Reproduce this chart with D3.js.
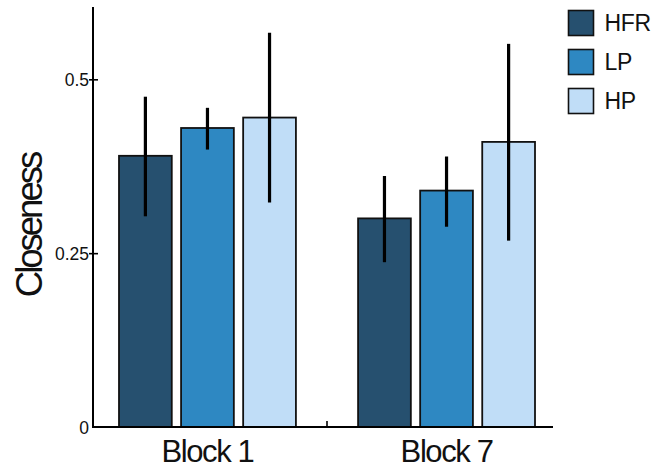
<!DOCTYPE html>
<html>
<head>
<meta charset="utf-8">
<script src="https://cdn.jsdelivr.net/npm/d3@7"></script>
<style>
  html, body { margin: 0; padding: 0; background: #fff; }
  svg { display: block; font-family: "Liberation Sans", Arial, Helvetica, sans-serif; }
  .ytick text { font-size: 17.5px; }
</style>
</head>
<body>
<svg id="chart" width="669" height="468"></svg>
<script>
// ---- data ----
const categories = ["Block 1", "Block 7"];
const seriesNames = ["HFR", "LP", "HP"];
const hfrMean = [0.39, 0.30];
const lpMean  = [0.43, 0.34];
const hpMean  = [0.445, 0.41];
const hfrLow  = [0.303, 0.237];
const hfrHigh = [0.475, 0.361];
const lpLow   = [0.399, 0.288];
const lpHigh  = [0.459, 0.389];
const hpLow   = [0.323, 0.268];
const hpHigh  = [0.567, 0.551];
const yTickValues = [0, 0.25, 0.5];
const yTickLabels = ["0", "0.25", "0.5"];
const yLabel = "Closeness";
const colors = ["#26506f", "#2e88c2", "#c0ddf7"];

const means = [hfrMean, lpMean, hpMean];
const lows = [hfrLow, lpLow, hpLow];
const highs = [hfrHigh, lpHigh, hpHigh];

const rows = [];
categories.forEach((c, ci) => {
  seriesNames.forEach((s, si) => {
    rows.push({cat: c, series: s, si, value: means[si][ci], lo: lows[si][ci], hi: highs[si][ci]});
  });
});

const svg = d3.select("#chart");
const axisX = 93, baseY = 427, topY = 7, axisRight = 553;

const y = d3.scaleLinear().domain([0, 0.604]).range([baseY, topY]);
const x0 = d3.scaleBand().domain(categories).range([119, 535]).paddingInner(0.26).paddingOuter(0);
const x1 = d3.scaleBand().domain(seriesNames).range([0, x0.bandwidth()]).paddingInner(0.15);
const color = d3.scaleOrdinal().domain(seriesNames).range(colors);

// bars
svg.append("g").selectAll("rect").data(rows).join("rect")
  .attr("x", d => x0(d.cat) + x1(d.series))
  .attr("y", d => y(d.value))
  .attr("width", x1.bandwidth())
  .attr("height", d => y(0) - y(d.value))
  .attr("fill", d => color(d.series))
  .attr("stroke", "#111")
  .attr("stroke-width", 1.8);

// error bars
svg.append("g").selectAll("line").data(rows).join("line")
  .attr("x1", d => x0(d.cat) + x1(d.series) + x1.bandwidth() / 2)
  .attr("x2", d => x0(d.cat) + x1(d.series) + x1.bandwidth() / 2)
  .attr("y1", d => y(d.lo))
  .attr("y2", d => y(d.hi))
  .attr("stroke", "#000")
  .attr("stroke-width", 3.2);

// y axis
const yAxis = d3.axisLeft(y).tickValues(yTickValues)
  .tickFormat((d, i) => yTickLabels[i]).tickSizeOuter(0);
const gy = svg.append("g").attr("class", "ytick")
  .attr("transform", `translate(${axisX},0)`).call(yAxis);
gy.attr("font-size", 17.5).attr("font-family", null);
gy.select(".domain").remove();
gy.selectAll(".tick line").attr("x1", 5).attr("x2", -4).attr("stroke", "#000").attr("stroke-width", 1.6);
gy.selectAll(".tick").filter(d => d === 0).select("line").remove();
gy.selectAll(".tick text").attr("x", -4).attr("dy", "0.36em")
  .attr("font-size", 17.5).attr("fill", "#111");

svg.append("line").attr("x1", axisX).attr("x2", axisX)
  .attr("y1", topY).attr("y2", baseY + 1)
  .attr("stroke", "#000").attr("stroke-width", 2);

// x axis
svg.append("line").attr("x1", axisX - 1).attr("x2", axisRight)
  .attr("y1", baseY).attr("y2", baseY)
  .attr("stroke", "#000").attr("stroke-width", 2);
const sepX = x0(categories[1]) - x0.step() * x0.paddingInner() / 2;
svg.append("line").attr("x1", sepX).attr("x2", sepX)
  .attr("y1", baseY).attr("y2", baseY - 6)
  .attr("stroke", "#000").attr("stroke-width", 1.6);

svg.append("g").selectAll("text").data(categories).join("text")
  .attr("x", d => x0(d) + x0.bandwidth() / 2)
  .attr("y", 461.5)
  .attr("text-anchor", "middle")
  .style("font-size", "31px")
  .style("letter-spacing", "-1.4px")
  .attr("fill", "#111")
  .text(d => d);

// y label
svg.append("text")
  .attr("transform", `translate(41.5,${224 + 1.5}) rotate(-90)`)
  .attr("text-anchor", "middle")
  .style("font-size", "36.5px")
  .style("letter-spacing", "-3px")
  .attr("fill", "#111")
  .text(yLabel);

// legend
const leg = svg.append("g").selectAll("g").data(seriesNames).join("g")
  .attr("transform", (d, i) => `translate(568.5,${10.5 + i * 39})`);
leg.append("rect").attr("width", 25).attr("height", 25)
  .attr("fill", d => color(d)).attr("stroke", "#111").attr("stroke-width", 1.6);
leg.append("text").attr("x", 36).attr("y", 12.5).attr("dy", "0.36em")
  .style("font-size", "23px").style("letter-spacing", "-0.3px")
  .attr("fill", "#111").text(d => d);
</script>
</body>
</html>
